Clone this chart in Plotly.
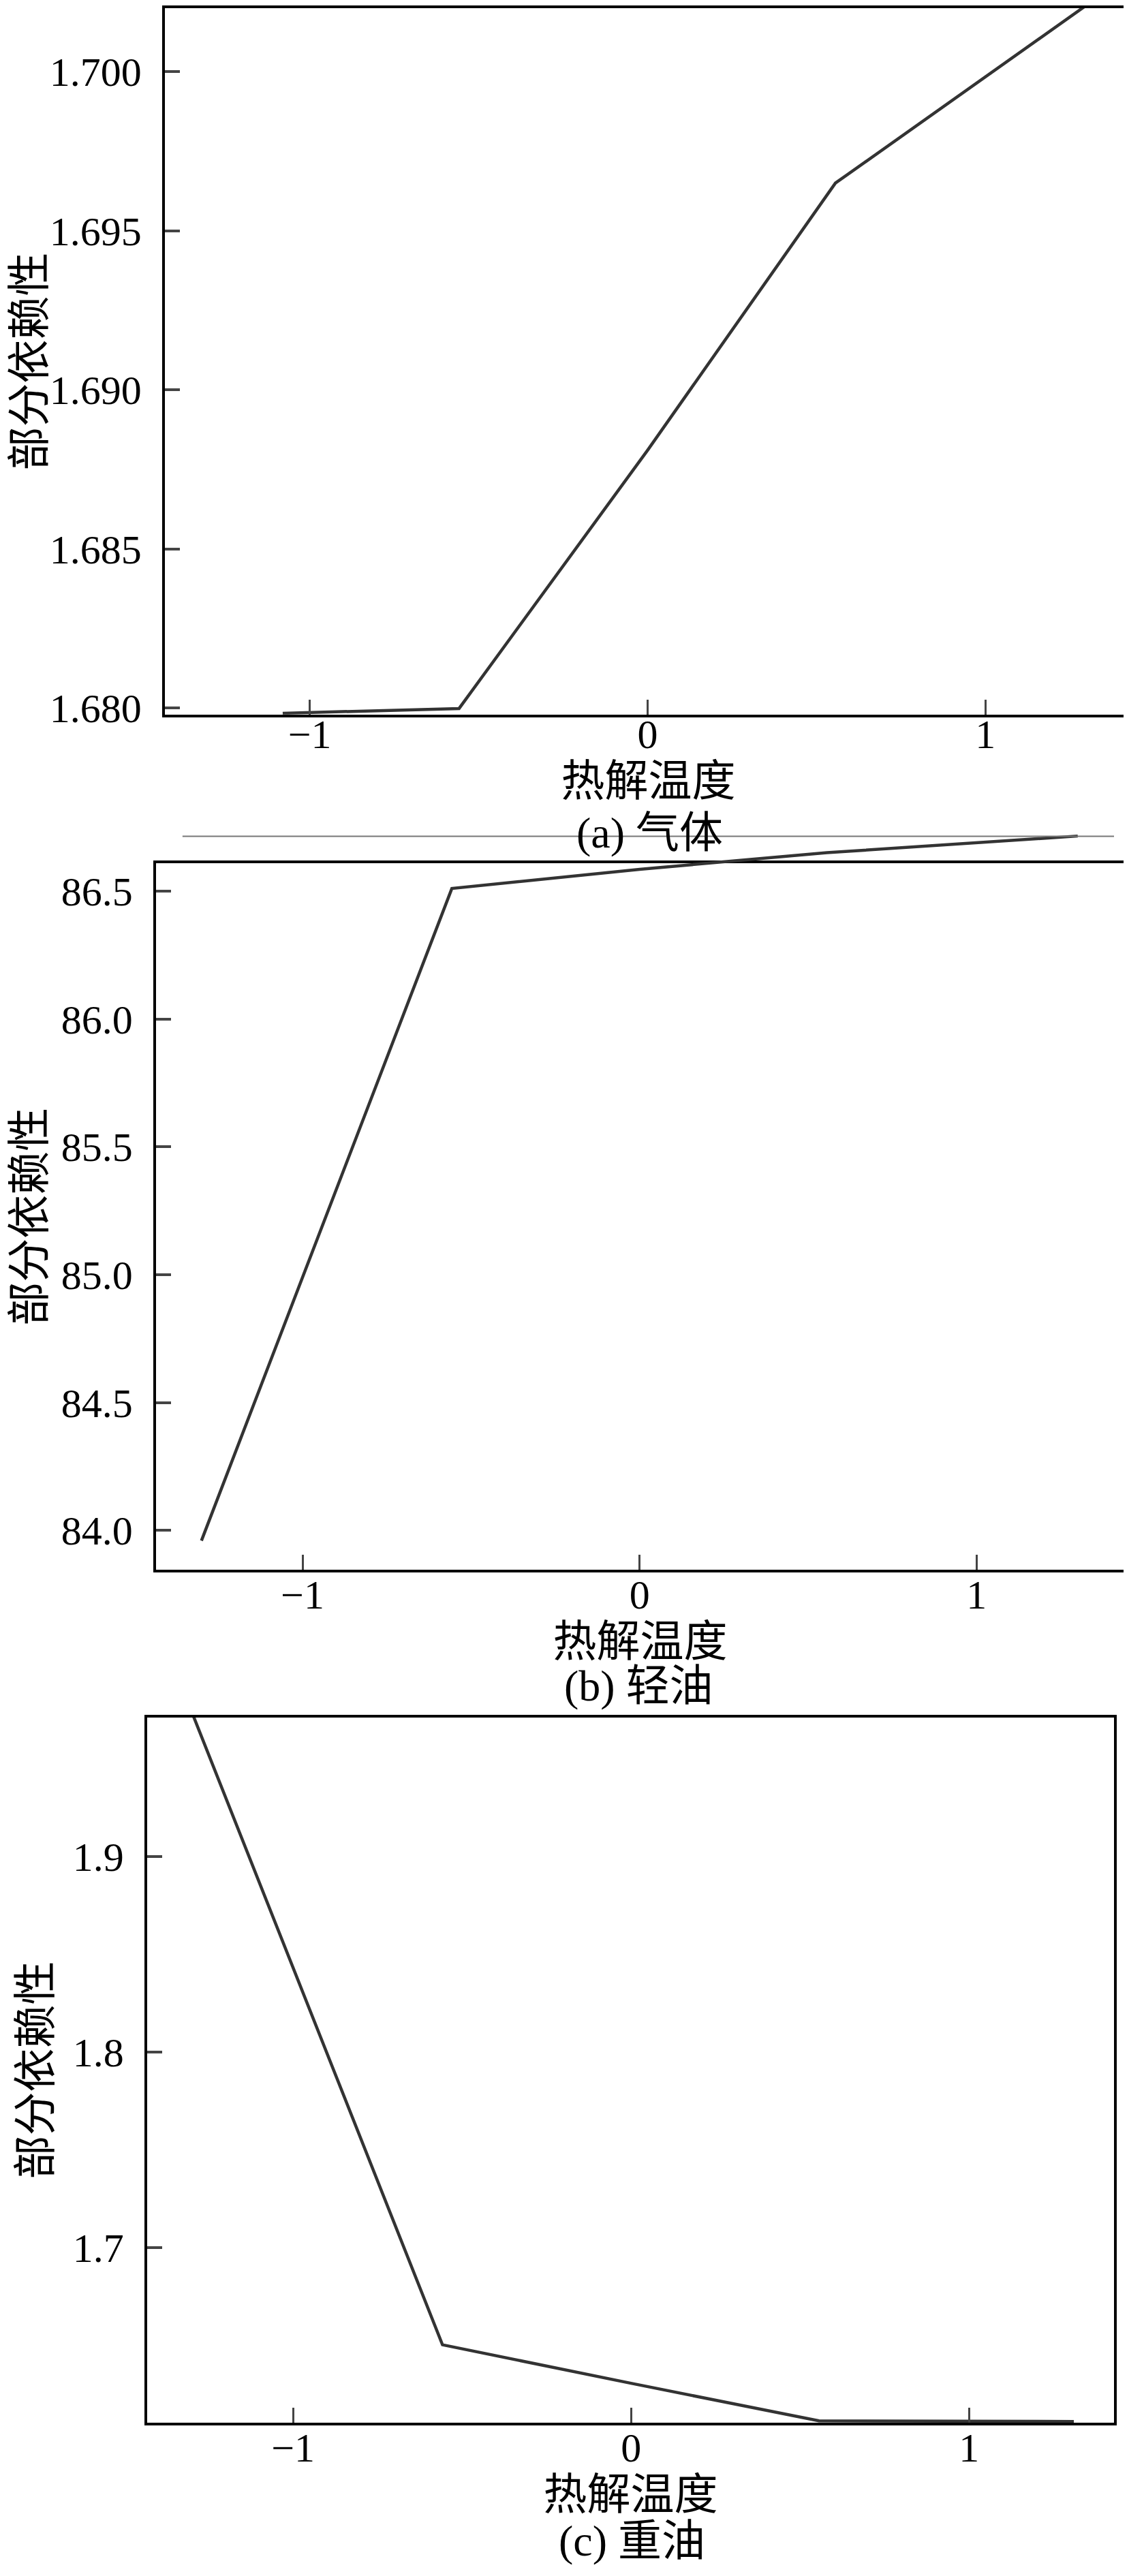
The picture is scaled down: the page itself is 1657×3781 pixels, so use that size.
import plotly.graph_objects as go

# ---------------- data ----------------
x_gas = [-1.08, -0.558, 0.0, 0.556, 1.30]
y_gas = [1.67983, 1.67998, 1.6881, 1.6965, 1.7021]

x_light = [-1.30, -0.557, 0.0, 0.556, 1.30]
y_light = [83.96, 86.51, 86.585, 86.65, 86.715]

x_heavy = [-1.30, -0.558, 0.0, 0.556, 1.31]
y_heavy = [1.974, 1.6504, 1.6307, 1.6115, 1.6112]

x_tickvals = [-1, 0, 1]
yticks_gas = [1.680, 1.685, 1.690, 1.695, 1.700]
yticks_light = [84.0, 84.5, 85.0, 85.5, 86.0, 86.5]
yticks_heavy = [1.7, 1.8, 1.9]

x_title = "热解温度"
y_title = "部分依赖性"
captions = ["(a) 气体", "(b) 轻油", "(c) 重油"]

# ---------------- layout geometry (pixels) ----------------
W, H = 1657, 3781
panels = [
    dict(L=234, R=1654, T=2, B=1046, xr=[-1.429, 1.433], yr=[1.67979, 1.7020],
         yt=yticks_gas, fmt=".3f", ystand=14, xls=-27, xts=2),
    dict(L=221, R=1643, T=1266, B=2310, xr=[-1.435, 1.438], yr=[83.846, 86.608],
         yt=yticks_light, fmt=".1f", ystand=20, xls=-19, xts=2),
    dict(L=208, R=1628, T=2528, B=3571, xr=[-1.432, 1.429], yr=[1.6104, 1.9712],
         yt=yticks_heavy, fmt=".1f", ystand=12, xls=-19, xts=14),
]
caption_y = [1221, 2482, 3745]
caption_x = [946, 930, 920]

def xd(L, R):
    return [L / W, R / W]

def yd(T, B):
    return [1 - B / H, 1 - T / H]

SERIF = "Liberation Serif, Times New Roman, serif"
CJK = "Liberation Serif, Noto Sans CJK SC, sans-serif"
LINE_COLOR = "#333333"
CJK_SIZE = 64

fig = go.Figure()
layout = dict(
    width=W, height=H,
    margin=dict(l=0, r=0, t=0, b=0),
    paper_bgcolor="white",
    plot_bgcolor="rgba(0,0,0,0)",
    showlegend=False,
    font=dict(family=SERIF, size=60, color="black"),
)

common_axis = dict(
    showline=True, mirror=True, linewidth=4, linecolor="black",
    ticks="inside", ticklen=22, showgrid=False, zeroline=False,
    tickfont=dict(family=SERIF, size=60, color="black"),
)

for i, p in enumerate(panels):
    n = "" if i == 0 else str(i + 1)
    layout["xaxis" + n] = dict(
        common_axis, domain=xd(p["L"], p["R"]), range=p["xr"], anchor="y" + n,
        tickvals=x_tickvals, tickwidth=3, ticklabelstandoff=p["xls"],
        title=dict(text=x_title, font=dict(family=CJK, size=CJK_SIZE, color="black"),
                   standoff=p["xts"]),
    )
    layout["yaxis" + n] = dict(
        common_axis, domain=yd(p["T"], p["B"]), range=p["yr"], anchor="x" + n,
        tickvals=p["yt"], tickformat=p["fmt"], tickwidth=4, ticklabelstandoff=18,
        title=dict(text=y_title, font=dict(family=CJK, size=CJK_SIZE, color="black"),
                   standoff=p["ystand"]),
    )

# panel (b): its curve runs past the top frame in the reference; use a hidden
# axis pair that shares the same scale but reaches higher up the page.
pb = panels[1]
spill_top_px = 1180
per_px = (pb["yr"][1] - pb["yr"][0]) / (pb["B"] - pb["T"])
layout["xaxis4"] = dict(domain=xd(pb["L"], pb["R"]), range=pb["xr"], anchor="y4", visible=False)
layout["yaxis4"] = dict(domain=yd(spill_top_px, pb["B"]),
                        range=[pb["yr"][0], pb["yr"][0] + per_px * (pb["B"] - spill_top_px)],
                        anchor="x4", visible=False)

line_style = dict(color=LINE_COLOR, width=4.5)
fig.add_trace(go.Scatter(x=x_gas, y=y_gas, mode="lines", line=line_style, xaxis="x", yaxis="y"))
# empty trace so the framed subplot of panel (b) is created
fig.add_trace(go.Scatter(x=[], y=[], mode="lines", xaxis="x2", yaxis="y2", hoverinfo="skip"))
fig.add_trace(go.Scatter(x=x_light, y=y_light, mode="lines", line=line_style, xaxis="x4", yaxis="y4"))
fig.add_trace(go.Scatter(x=x_heavy, y=y_heavy, mode="lines", line=line_style, xaxis="x3", yaxis="y3"))

annotations = []
for cx, cy, txt in zip(caption_x, caption_y, captions):
    annotations.append(dict(
        text=txt, x=cx / W, y=1 - cy / H, xref="paper", yref="paper",
        xanchor="center", yanchor="middle", showarrow=False,
        font=dict(family=CJK, size=CJK_SIZE, color="black"),
    ))
layout["annotations"] = annotations

layout["shapes"] = [dict(
    type="line", xref="paper", yref="paper",
    x0=260 / W, x1=1628 / W, y0=1 - 1226 / H, y1=1 - 1226 / H,
    line=dict(color="#777777", width=2), layer="above",
)]

fig.update_layout(**layout)
fig.write_html("out.html")
